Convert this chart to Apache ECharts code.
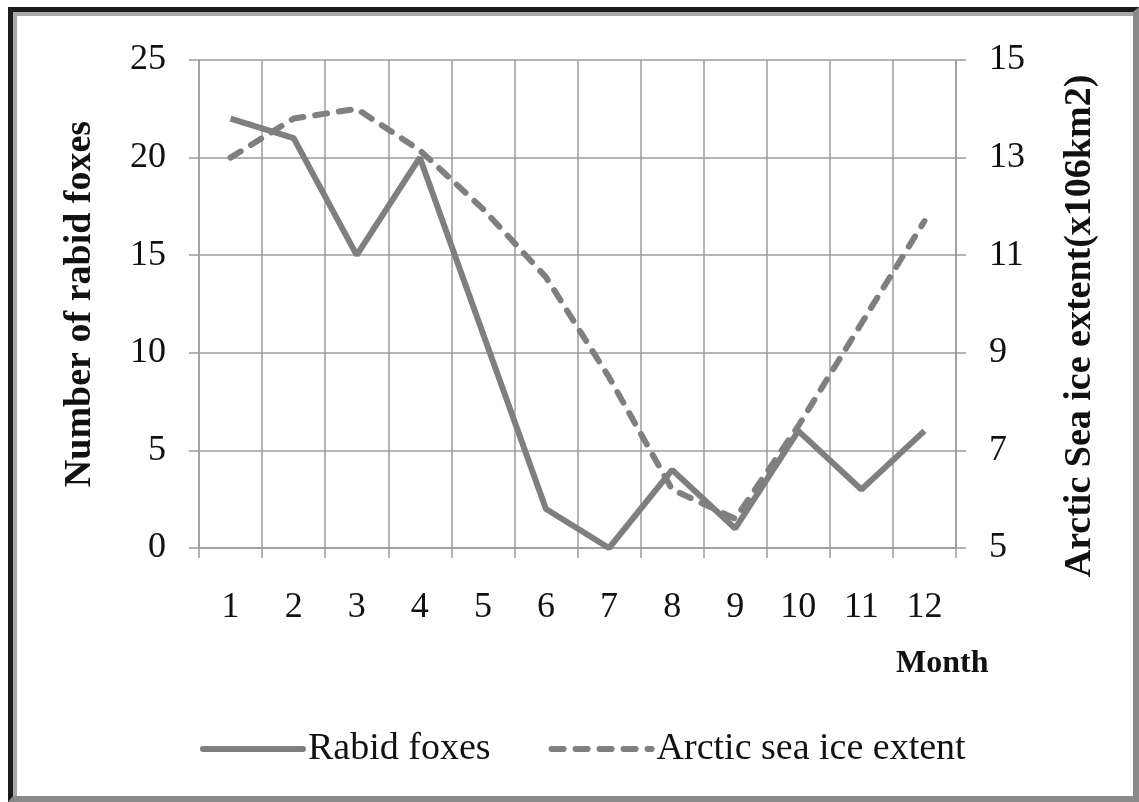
<!DOCTYPE html>
<html>
<head>
<meta charset="utf-8">
<title>Rabid foxes and Arctic sea ice</title>
<script src="https://cdn.jsdelivr.net/npm/echarts@6/dist/echarts.min.js"></script>
<style>
  html, body { margin: 0; padding: 0; background: #fff; }
  #chart { position: absolute; left: 0; top: 0; width: 1139px; height: 802px; }
  /* beveled picture frame */
  #frame {
    position: absolute; left: 8px; top: 7px; width: 1131px; height: 795px;
    box-sizing: border-box; pointer-events: none;
    border-style: solid; border-width: 5px 6px 6px 5px;
    border-color: #1c1c1c #8a8a8a #8a8a8a #1c1c1c;
    box-shadow: inset 4px 4px 0 #a8a8a8;
  }
</style>
</head>
<body>
<div id="chart"></div>
<div id="frame"></div>
<script>
// months on the x axis
const months = ['1', '2', '3', '4', '5', '6', '7', '8', '9', '10', '11', '12'];
// number of rabid foxes (left axis)
const rabidFoxes = [22, 21, 15, 20, 11, 2, 0, 4, 1, 6, 3, 6];
// arctic sea ice extent, x10^6 km2 (right axis)
const seaIce = [13.0, 13.8, 14.0, 13.15, 11.95, 10.55, 8.5, 6.2, 5.6, 7.5, 9.6, 11.7];

const font = 'Liberation Serif';
const gray = '#7f7f7f';
const gridGray = '#9c9c9c';

const chart = echarts.init(document.getElementById('chart'));

const option = {
  backgroundColor: '#fff',
  animation: false,
  textStyle: { fontFamily: font, color: '#111' },
  grid: { left: 199, right: 183, top: 60, bottom: 254 },
  legend: {
    left: 195,
    top: 725,
    itemWidth: 100,
    itemHeight: 16,
    itemGap: 58,
    itemStyle: { opacity: 0 },
    lineStyle: { width: 6, cap: 'round' },
    textStyle: { fontFamily: font, fontSize: 38, color: '#111' },
    data: ['Rabid foxes', 'Arctic sea ice extent']
  },
  graphic: [
    {
      type: 'text',
      left: 896,
      top: 648,
      style: { text: 'Month', font: 'bold 32px "Liberation Serif"', fill: '#111' }
    }
  ],
  xAxis: {
    type: 'category',
    data: months,
    boundaryGap: true,
    axisLine: { lineStyle: { color: gridGray, width: 1.5 } },
    axisTick: { show: true, length: 10, lineStyle: { color: gridGray, width: 1.5 } },
    axisLabel: { fontFamily: font, fontSize: 36, color: '#111', margin: 42 },
    splitLine: { show: true, lineStyle: { color: gridGray, width: 1.5 } }
  },
  yAxis: [
    {
      type: 'value',
      min: 0,
      max: 25,
      interval: 5,
      name: 'Number of rabid foxes',
      nameLocation: 'middle',
      nameRotate: 90,
      nameGap: 100,
      nameTextStyle: { fontFamily: font, fontSize: 38, fontWeight: 'bold', color: '#111' },
      axisLine: { show: true, lineStyle: { color: gridGray, width: 1.5 } },
      axisTick: { show: true, length: 10, lineStyle: { color: gridGray, width: 1.5 } },
      axisLabel: { fontFamily: font, fontSize: 36, color: '#111', margin: 33 },
      splitLine: { show: true, lineStyle: { color: gridGray, width: 1.5 } }
    },
    {
      type: 'value',
      min: 5,
      max: 15,
      interval: 2,
      position: 'right',
      name: 'Arctic Sea ice extent(x106km2)',
      nameLocation: 'middle',
      nameRotate: 90,
      nameGap: 105,
      nameTextStyle: {
        fontFamily: font, fontSize: 38, fontWeight: 'bold', color: '#111',
        padding: [0, 44, 0, 0]
      },
      axisLine: { show: true, lineStyle: { color: gridGray, width: 1.5 } },
      axisTick: { show: true, length: 10, lineStyle: { color: gridGray, width: 1.5 } },
      axisLabel: { fontFamily: font, fontSize: 36, color: '#111', margin: 33 },
      splitLine: { show: false }
    }
  ],
  series: [
    {
      name: 'Rabid foxes',
      type: 'line',
      yAxisIndex: 0,
      data: rabidFoxes,
      symbol: 'none',
      color: gray,
      lineStyle: { color: gray, width: 6 }
    },
    {
      name: 'Arctic sea ice extent',
      type: 'line',
      yAxisIndex: 1,
      data: seaIce,
      symbol: 'none',
      color: gray,
      lineStyle: { color: gray, width: 6, type: [12, 12], cap: 'round' }
    }
  ]
};

chart.setOption(option);
</script>
</body>
</html>
